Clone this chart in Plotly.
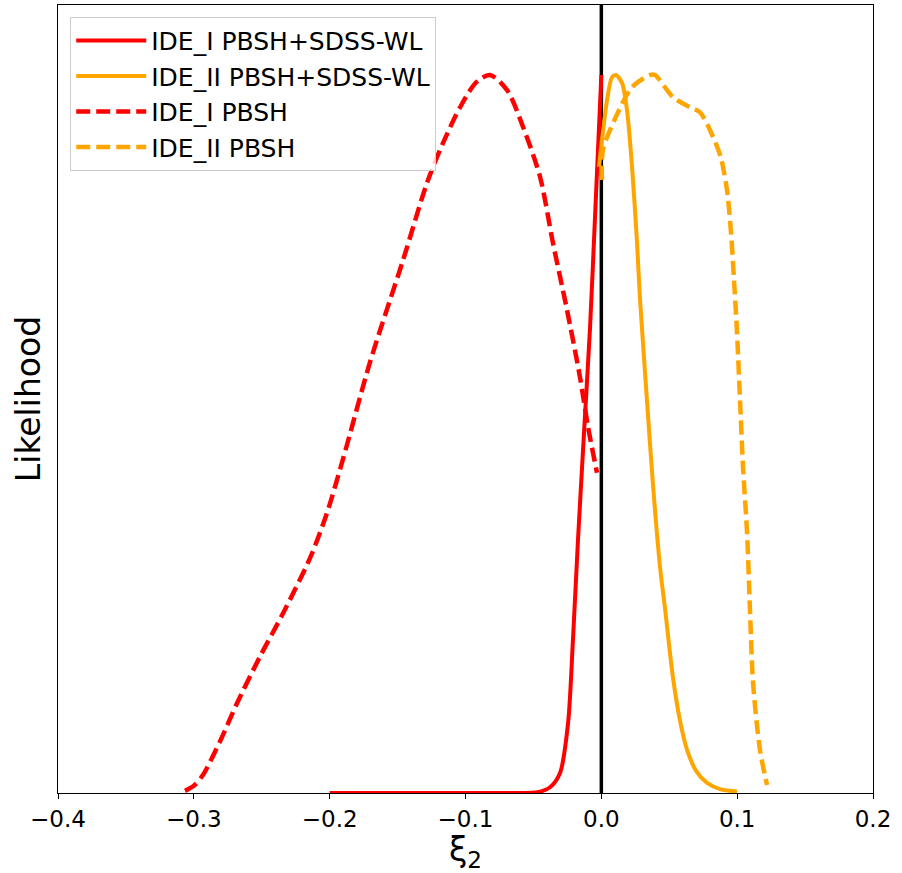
import plotly.graph_objects as go

# IDE_I PBSH+SDSS-WL (red solid)
x_r_solid = [-0.2, -0.1, -0.06, -0.047, -0.0378, -0.0304, -0.0245, -0.0209, -0.0172,
             -0.0125, -0.0083, -0.0047, 0.0]
y_r_solid = [0.0, 0.0, 0.0, 0.001, 0.008, 0.028, 0.097, 0.213, 0.352,
             0.51, 0.649, 0.8, 1.0]

# IDE_II PBSH+SDSS-WL (orange solid)
x_o_solid = [-0.0017, 0.0042, 0.0079, 0.0108, 0.0152, 0.0189, 0.0226, 0.0263, 0.0285, 0.0336,
             0.038, 0.0432, 0.047, 0.0528, 0.058, 0.0631, 0.07, 0.0778, 0.088, 0.0999]
y_o_solid = [0.872, 0.965, 0.997, 1.0, 0.989, 0.951, 0.872, 0.766, 0.687, 0.547,
             0.43, 0.315, 0.255, 0.16, 0.1, 0.06, 0.03, 0.014, 0.005, 0.002]

# IDE_I PBSH (red dashed)
x_r_dash = [-0.3065, -0.3, -0.2933, -0.2807, -0.2682, -0.2513, -0.2344, -0.2145, -0.202,
            -0.1902, -0.1703, -0.146, -0.1283, -0.1166, -0.104, -0.092, -0.082, -0.0694,
            -0.0577, -0.0451, -0.0356, -0.0253, -0.0157, -0.0098, -0.0032]
y_r_dash = [0.003, 0.01, 0.025, 0.072, 0.125, 0.19, 0.25, 0.327, 0.39,
            0.465, 0.6, 0.742, 0.85, 0.905, 0.955, 0.99, 1.0, 0.979,
            0.928, 0.858, 0.766, 0.673, 0.579, 0.51, 0.446]

# IDE_II PBSH (orange dashed)
x_o_dash = [0.0005, 0.0012, 0.0108, 0.0226, 0.036, 0.0395, 0.0528, 0.0653, 0.0727, 0.0822,
            0.088, 0.0925, 0.0955, 0.0975, 0.0999, 0.1021, 0.1043, 0.1073, 0.1095, 0.1117,
            0.1168, 0.122]
y_o_dash = [0.854, 0.896, 0.942, 0.983, 1.0, 1.0, 0.969, 0.955, 0.948, 0.914,
            0.885, 0.84, 0.78, 0.72, 0.641, 0.547, 0.454, 0.362, 0.251, 0.153,
            0.06, 0.011]

x_ticks = [-0.4, -0.3, -0.2, -0.1, 0.0, 0.1, 0.2]
x_tick_labels = ["\u22120.4", "\u22120.3", "\u22120.2", "\u22120.1", "0.0", "0.1", "0.2"]

RED = "#ff0000"
ORANGE = "#ffa500"
DASH = "14px,6px"

fig = go.Figure()
fig.add_trace(go.Scatter(x=x_r_solid, y=y_r_solid, mode="lines", name="IDE_I PBSH+SDSS-WL",
                         line=dict(color=RED, width=4, shape="spline", smoothing=0.8)))
fig.add_trace(go.Scatter(x=x_o_solid, y=y_o_solid, mode="lines", name="IDE_II PBSH+SDSS-WL",
                         line=dict(color=ORANGE, width=4, shape="spline", smoothing=0.8)))
fig.add_trace(go.Scatter(x=x_r_dash, y=y_r_dash, mode="lines", name="IDE_I PBSH",
                         line=dict(color=RED, width=4.5, dash=DASH, shape="spline", smoothing=0.8)))
fig.add_trace(go.Scatter(x=x_o_dash, y=y_o_dash, mode="lines", name="IDE_II PBSH",
                         line=dict(color=ORANGE, width=4.5, dash=DASH, shape="spline", smoothing=0.8)))

fig.add_shape(type="line", x0=0, x1=0, y0=0, y1=1, xref="x", yref="paper",
              line=dict(color="black", width=3.5), layer="below")

fig.update_layout(
    width=902, height=873,
    margin=dict(l=58, r=29, t=5, b=80),
    paper_bgcolor="white", plot_bgcolor="white",
    font=dict(family="DejaVu Sans", color="black"),
    showlegend=True,
    legend=dict(x=0.015, y=0.985, xanchor="left", yanchor="top",
                bgcolor="rgba(255,255,255,0.8)", bordercolor="#cccccc", borderwidth=1,
                font=dict(size=25, family="DejaVu Sans"), tracegroupgap=2,
                itemwidth=70),
    xaxis=dict(range=[-0.4, 0.2], tickvals=x_ticks, ticktext=x_tick_labels,
               showgrid=False, zeroline=False, showline=True, linecolor="black",
               linewidth=1.2, mirror=True, ticks="outside", ticklen=5, tickcolor="black",
               tickfont=dict(size=23),
               title=dict(text="\u03be<sub>2</sub>", font=dict(size=33), standoff=4)),
    yaxis=dict(range=[0, 1.0975], showticklabels=False, ticks="",
               showgrid=False, zeroline=False, showline=True, linecolor="black",
               linewidth=1.2, mirror=True,
               title=dict(text="Likelihood", font=dict(size=33), standoff=6)),
)

fig.write_html("out.html")
